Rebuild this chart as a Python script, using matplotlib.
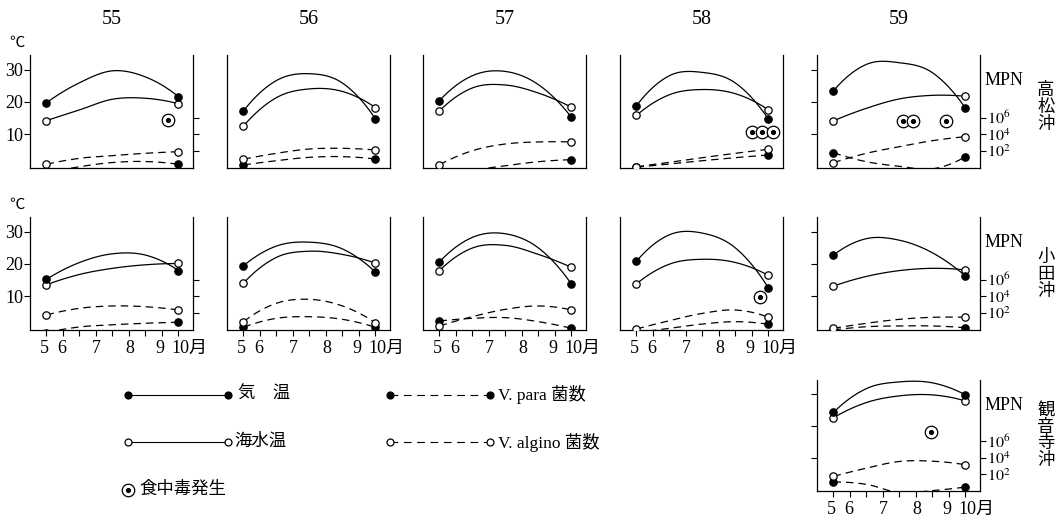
import numpy as np
import matplotlib

matplotlib.use("Agg")
from matplotlib import pyplot as plt
from matplotlib.ticker import NullLocator

plt.rcParams["font.family"] = ["Liberation Serif", "Noto Sans CJK JP"]
plt.rcParams["mathtext.fontset"] = "stix"

FIG_W, FIG_H = 1062, 519

YEARS = ["55", "56", "57", "58", "59"]
STATIONS = ["高松沖", "小田沖", "観音寺沖"]

# sampling positions on the month axis (May .. October)
SAMPLE_X = [5.5, 6.5, 7.5, 8.5, 9.5]
HALF_MONTHS = [5.5, 6.0, 6.5, 7.0, 7.5, 8.0, 8.5, 9.0, 9.5]
MONTH_POS = [5.45, 5.96, 7.02, 8.03, 8.94, 9.82]
MONTH_LABELS = ["5", "6", "7", "8", "9", "10月"]
TEMP_TICKS = [10, 20, 30]
MPN_TICKS = [1e2, 1e4, 1e6]
MPN_LABELS = [r"$10^2$", r"$10^4$", r"$10^6$"]

# 高松沖, years 55-59 (℃)
takamatsu_air = [
    [19.7, 25.9, 29.6, 27.7, 21.6],
    [17.2, 26.6, 28.7, 25.8, 14.7],
    [20.4, 28.1, 29.4, 25.3, 15.2],
    [18.8, 28.1, 29.1, 25.8, 14.6],
    [23.4, 31.6, 32.1, 29.0, 18.0],
]
takamatsu_sea = [
    [14.2, 17.5, 20.8, 21.1, 19.4],
    [12.5, 21.3, 24.0, 23.2, 18.2],
    [17.2, 24.3, 25.2, 22.7, 18.3],
    [15.8, 22.2, 23.8, 22.5, 17.5],
    [14.1, 18.0, 20.9, 22.0, 21.7],
]
# log10 MPN
takamatsu_para = [
    [-0.6, 0.15, 0.65, 0.77, 0.44],
    [0.36, 0.87, 1.27, 1.35, 1.07],
    [-1.2, -0.3, 0.27, 0.75, 0.99],
    [0.1, 0.48, 0.87, 1.23, 1.55],
    [1.82, 0.75, 0.2, -0.1, 1.35],
]
takamatsu_algino = [
    [0.44, 1.15, 1.47, 1.75, 1.94],
    [1.04, 1.75, 2.26, 2.34, 2.14],
    [0.39, 2.06, 2.86, 3.1, 3.1],
    [0.15, 0.68, 1.23, 1.75, 2.23],
    [0.63, 1.75, 2.54, 3.25, 3.73],
]
# food poisoning outbreaks (month, ℃ level of the mark)
takamatsu_poison = [
    [(9.18, 14.4)],
    [],
    [],
    [(9.0, 10.6), (9.3, 10.6), (9.64, 10.6)],
    [(7.6, 14.2), (7.92, 14.2), (8.9, 14.2)],
]

# 小田沖, years 55-59
oda_air = [
    [15.2, 20.4, 23.1, 22.7, 17.9],
    [19.4, 25.5, 26.7, 24.6, 17.4],
    [20.6, 28.2, 29.3, 24.9, 13.7],
    [20.8, 29.0, 29.5, 24.9, 12.5],
    [22.7, 27.8, 27.3, 23.4, 16.2],
]
oda_sea = [
    [13.5, 16.7, 18.6, 19.7, 20.1],
    [14.0, 22.0, 23.9, 22.9, 20.2],
    [17.9, 24.9, 25.7, 22.9, 18.9],
    [13.8, 19.9, 21.4, 20.4, 16.4],
    [13.1, 16.1, 17.9, 18.6, 18.1],
]
oda_para = [
    [-0.3, 0.36, 0.62, 0.8, 0.92],
    [0.32, 1.39, 1.58, 1.27, 0.32],
    [1.07, 1.39, 1.47, 0.99, 0.2],
    [-0.3, 0.2, 0.71, 0.99, 0.68],
    [0.0, 0.39, 0.48, 0.48, 0.27],
]
oda_algino = [
    [1.79, 2.58, 2.86, 2.77, 2.38],
    [0.99, 3.18, 3.65, 2.86, 0.87],
    [0.48, 1.59, 2.46, 2.86, 2.38],
    [0.12, 1.11, 1.98, 2.38, 1.51],
    [0.2, 0.8, 1.27, 1.51, 1.51],
]
oda_poison = [[], [], [], [(9.24, 9.7)], []]

# 観音寺沖, year 59 only
kanonji_air = [[24.3, 31.8, 33.9, 33.6, 29.8]]
kanonji_sea = [[22.6, 27.4, 29.5, 29.8, 27.9]]
kanonji_para = [[1.08, 0.8, -0.2, 0.05, 0.48]]
kanonji_algino = [[1.77, 2.77, 3.58, 3.61, 3.18]]
kanonji_poison = [[(8.45, 18.1)]]

# layout in pixels
COL_LEFT = [30, 227, 423, 620, 817]
ROW_TOP = [55, 217, 380]
ROW_H = [113, 113, 111]
PANEL_W = 163

SOLID = dict(color="black", lw=0.9)
DASHED = dict(color="black", lw=0.9, linestyle=(0, (6, 4)))
FILLED = dict(marker="o", ms=5.3, mfc="black", mec="black", mew=0.9, linestyle="none")
OPEN = dict(marker="o", ms=5.3, mfc="white", mec="black", mew=0.9, linestyle="none")


def smooth(xs, ys, n=20):
    # cubic hermite through the read values, just for a hand-drawn look
    xs = np.asarray(xs, float)
    ys = np.asarray(ys, float)
    m = np.gradient(ys, xs, edge_order=2)
    t = np.linspace(0, 1, n, endpoint=False)
    px, py = [], []
    for i in range(len(xs) - 1):
        h = xs[i + 1] - xs[i]
        px.append(xs[i] + t * h)
        py.append((2 * t**3 - 3 * t**2 + 1) * ys[i] + (t**3 - 2 * t**2 + t) * h * m[i]
                  + (-2 * t**3 + 3 * t**2) * ys[i + 1] + (t**3 - t**2) * h * m[i + 1])
    px.append(xs[-1:])
    py.append(ys[-1:])
    return np.concatenate(px), np.concatenate(py)


def add_poison(ax, x, y, size=9.0):
    ax.plot(x, y, "o", ms=size, mfc="white", mec="black", mew=0.9)
    ax.plot(x, y, "o", ms=size * 0.3, color="black")


def draw_panel(fig, row, col, air, sea, para, algino, poison):
    h = ROW_H[row]
    ax = fig.add_axes([COL_LEFT[col] / FIG_W, 1 - (ROW_TOP[row] + h) / FIG_H,
                       PANEL_W / FIG_W, h / FIG_H])
    ax2 = ax.twinx()
    ax.set_xlim(5.0, 9.94)
    ax.set_ylim(-0.5, 34.5)
    ax2.set_yscale("log")
    ax2.set_ylim(1, 10**13.45)

    ax.spines["top"].set_visible(False)
    for s in ax.spines.values():
        s.set_linewidth(0.9)
    for s in ax2.spines.values():
        s.set_visible(False)

    # temperatures
    ends = [SAMPLE_X[0], SAMPLE_X[-1]]
    for vals, mk in ((sea, OPEN), (air, FILLED)):
        sx, sy = smooth(SAMPLE_X, vals)
        ax.plot(sx, sy, **SOLID)
        ax.plot(ends, [vals[0], vals[-1]], **mk)

    # vibrio counts on the MPN axis
    for vals, mk in ((para, FILLED), (algino, OPEN)):
        sx, sy = smooth(SAMPLE_X, vals)
        ax2.plot(sx, 10**sy, **DASHED)
        ax2.plot(ends, [10**vals[0], 10**vals[-1]], **mk)

    for x, y in poison:
        add_poison(ax, x, y)

    # y ticks
    ax.tick_params(axis="y", direction="out", length=4, width=0.8, labelsize=13, pad=1)
    ax2.tick_params(axis="y", direction="out", length=4, width=0.8, labelsize=11.5, pad=1)
    ax2.yaxis.set_minor_locator(NullLocator())
    if col == 0:
        ax.set_yticks(TEMP_TICKS)
        ax2.set_yticks(MPN_TICKS)
        ax2.tick_params(labelright=False)
    elif col == 4:
        ax.set_yticks(TEMP_TICKS)
        ax.tick_params(labelleft=False)
        ax2.set_yticks(MPN_TICKS, MPN_LABELS)
        ax2.text(1.03, 0.77, "MPN", transform=ax.transAxes, ha="left", va="center",
                 fontsize=13)
    else:
        ax.set_yticks([])
        ax2.set_yticks([])

    # x ticks
    if (row == 1 and col < 4) or row == 2:
        ax.set_xticks(MONTH_POS, MONTH_LABELS)
        ax.set_xticks(HALF_MONTHS, minor=True)
        ax.tick_params(axis="x", which="major", length=0, labelsize=13, pad=7)
        ax.tick_params(axis="x", which="minor", direction="out", length=4, width=0.8)
    else:
        ax.set_xticks([])

    if col == 0:
        ax.text(-0.08, 1.1, "℃", transform=ax.transAxes, ha="center", va="center",
                fontsize=11)
    if row == 0:
        ax.text(0.5, 1.31, YEARS[col], transform=ax.transAxes, ha="center",
                va="center", fontsize=14.5)
    return ax


fig = plt.figure(figsize=(FIG_W / 100, FIG_H / 100), dpi=100)

for i in range(5):
    draw_panel(fig, 0, i, takamatsu_air[i], takamatsu_sea[i], takamatsu_para[i],
               takamatsu_algino[i], takamatsu_poison[i])
    draw_panel(fig, 1, i, oda_air[i], oda_sea[i], oda_para[i], oda_algino[i],
               oda_poison[i])
draw_panel(fig, 2, 4, kanonji_air[0], kanonji_sea[0], kanonji_para[0],
           kanonji_algino[0], kanonji_poison[0])

# station names, written vertically
for name, yc in zip(STATIONS, [108, 275, 436]):
    fig.text(1046 / FIG_W, 1 - yc / FIG_H, "\n".join(name), ha="center", va="center",
             fontsize=12.5, linespacing=1.05)

# legend drawn in pixel space
lax = fig.add_axes([0, 0, 1, 1])
lax.set_xlim(0, FIG_W)
lax.set_ylim(FIG_H, 0)
lax.axis("off")
leg_marker = dict(ms=5.0, mew=0.9)
lax.plot([128, 228], [395, 395], color="black", lw=0.8)
lax.plot([128, 228], [395, 395], **{**FILLED, **leg_marker})
lax.text(238, 395, "気　温", va="center", fontsize=12.5)
lax.plot([128, 228], [442, 442], color="black", lw=0.8)
lax.plot([128, 228], [442, 442], **{**OPEN, **leg_marker})
lax.text(234, 442, "海水温", va="center", fontsize=12.5)
lax.plot([390, 490], [395, 395], color="black", lw=0.8, linestyle=(0, (7, 5)))
lax.plot([390, 490], [395, 395], **{**FILLED, **leg_marker})
lax.text(498, 395, "V. para 菌数", va="center", fontsize=12.5)
lax.plot([390, 490], [442, 442], color="black", lw=0.8, linestyle=(0, (7, 5)))
lax.plot([390, 490], [442, 442], **{**OPEN, **leg_marker})
lax.text(498, 442, "V. algino 菌数", va="center", fontsize=12.5)
add_poison(lax, 128, 490, size=9)
lax.text(139, 490, "食中毒発生", va="center", fontsize=12.5)

fig.savefig("out.png", dpi=100)
